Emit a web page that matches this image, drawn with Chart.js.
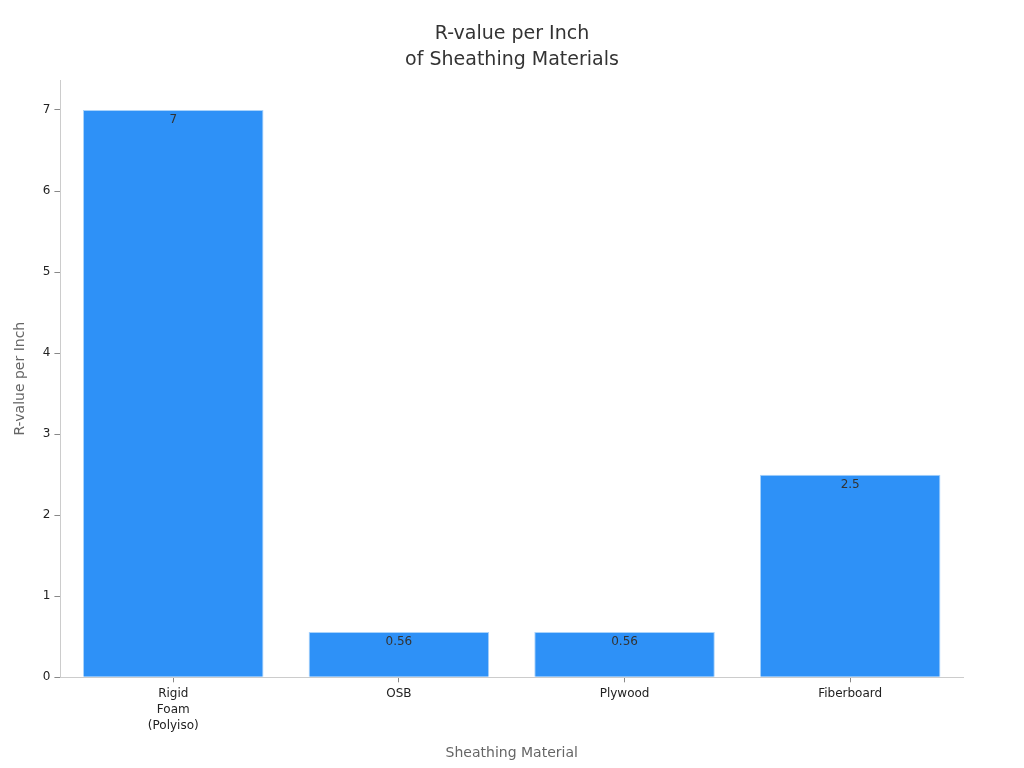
<!DOCTYPE html>
<html>
<head>
<meta charset="utf-8">
<script src="https://cdn.jsdelivr.net/npm/chart.js@4"></script>
<style>
  html, body { margin: 0; padding: 0; background: #fff; }
  #wrap { width: 1024px; height: 768px; }
</style>
</head>
<body>
<div id="wrap"><canvas id="mycanvas" width="1024" height="768"></canvas></div>
<script>
// values
var materials = [["Rigid", "Foam", "(Polyiso)"], "OSB", "Plywood", "Fiberboard"];
var rValues = [7, 0.56, 0.56, 2.5];
var yTicks = [0, 1, 2, 3, 4, 5, 6, 7];
var titleLines = ["R-value per Inch", "of Sheathing Materials"];

// draws the value just inside the top of each bar, and the title centred on the page
var barLabels = {
  id: "barLabels",
  afterDatasetsDraw: function (chart) {
    var ctx = chart.ctx;
    var meta = chart.getDatasetMeta(0);
    ctx.save();
    ctx.font = "12px 'DejaVu Sans'";
    ctx.fillStyle = "#333";
    ctx.textAlign = "center";
    ctx.textBaseline = "middle";
    meta.data.forEach(function (bar, i) {
      ctx.fillText(String(rValues[i]), bar.x, bar.y + 10);
    });
    ctx.font = "19px 'DejaVu Sans'";
    ctx.fillStyle = "#333";
    titleLines.forEach(function (t, i) {
      ctx.fillText(t, chart.width / 2, 34 + i * 26);
    });
    ctx.restore();
  }
};

Chart.defaults.font.family = "'DejaVu Sans', sans-serif";

var ctx = document.getElementById("mycanvas").getContext("2d");
var myBarChart = new Chart(ctx, {
  type: "bar",
  data: {
    labels: materials,
    datasets: [{
      data: rValues,
      backgroundColor: "#2e91f7",
      borderColor: "#a9d3fb",
      borderWidth: 1,
      barPercentage: 0.8,
      categoryPercentage: 1
    }]
  },
  options: {
    responsive: false,
    animation: false,
    devicePixelRatio: 1,
    layout: { padding: { top: 80, right: 61, bottom: 2, left: 8 } },
    plugins: {
      legend: { display: false },
      tooltip: { enabled: false },
      title: { display: false }
    },
    scales: {
      x: {
        grid: { display: true, offset: false, drawOnChartArea: false, drawTicks: true, tickLength: 5, tickColor: "#888" },
        border: { display: true, color: "#ccc" },
        ticks: { color: "#222", font: { size: 12, lineHeight: 1.33 }, padding: 4 },
        title: {
          display: true,
          text: "Sheathing Material",
          color: "#666",
          font: { size: 14 },
          padding: { top: 7 }
        }
      },
      y: {
        min: 0,
        max: 7.37,
        afterBuildTicks: function (axis) {
          axis.ticks = yTicks.map(function (v) { return { value: v }; });
        },
        grid: { display: true, drawOnChartArea: false, drawTicks: true, tickLength: 6, tickColor: "#888" },
        border: { display: true, color: "#ccc" },
        ticks: { color: "#222", font: { size: 12 }, padding: 4 },
        title: {
          display: true,
          text: "R-value per Inch",
          color: "#666",
          font: { size: 14 },
          padding: { bottom: 10 }
        }
      }
    }
  },
  plugins: [barLabels]
});
</script>
</body>
</html>
